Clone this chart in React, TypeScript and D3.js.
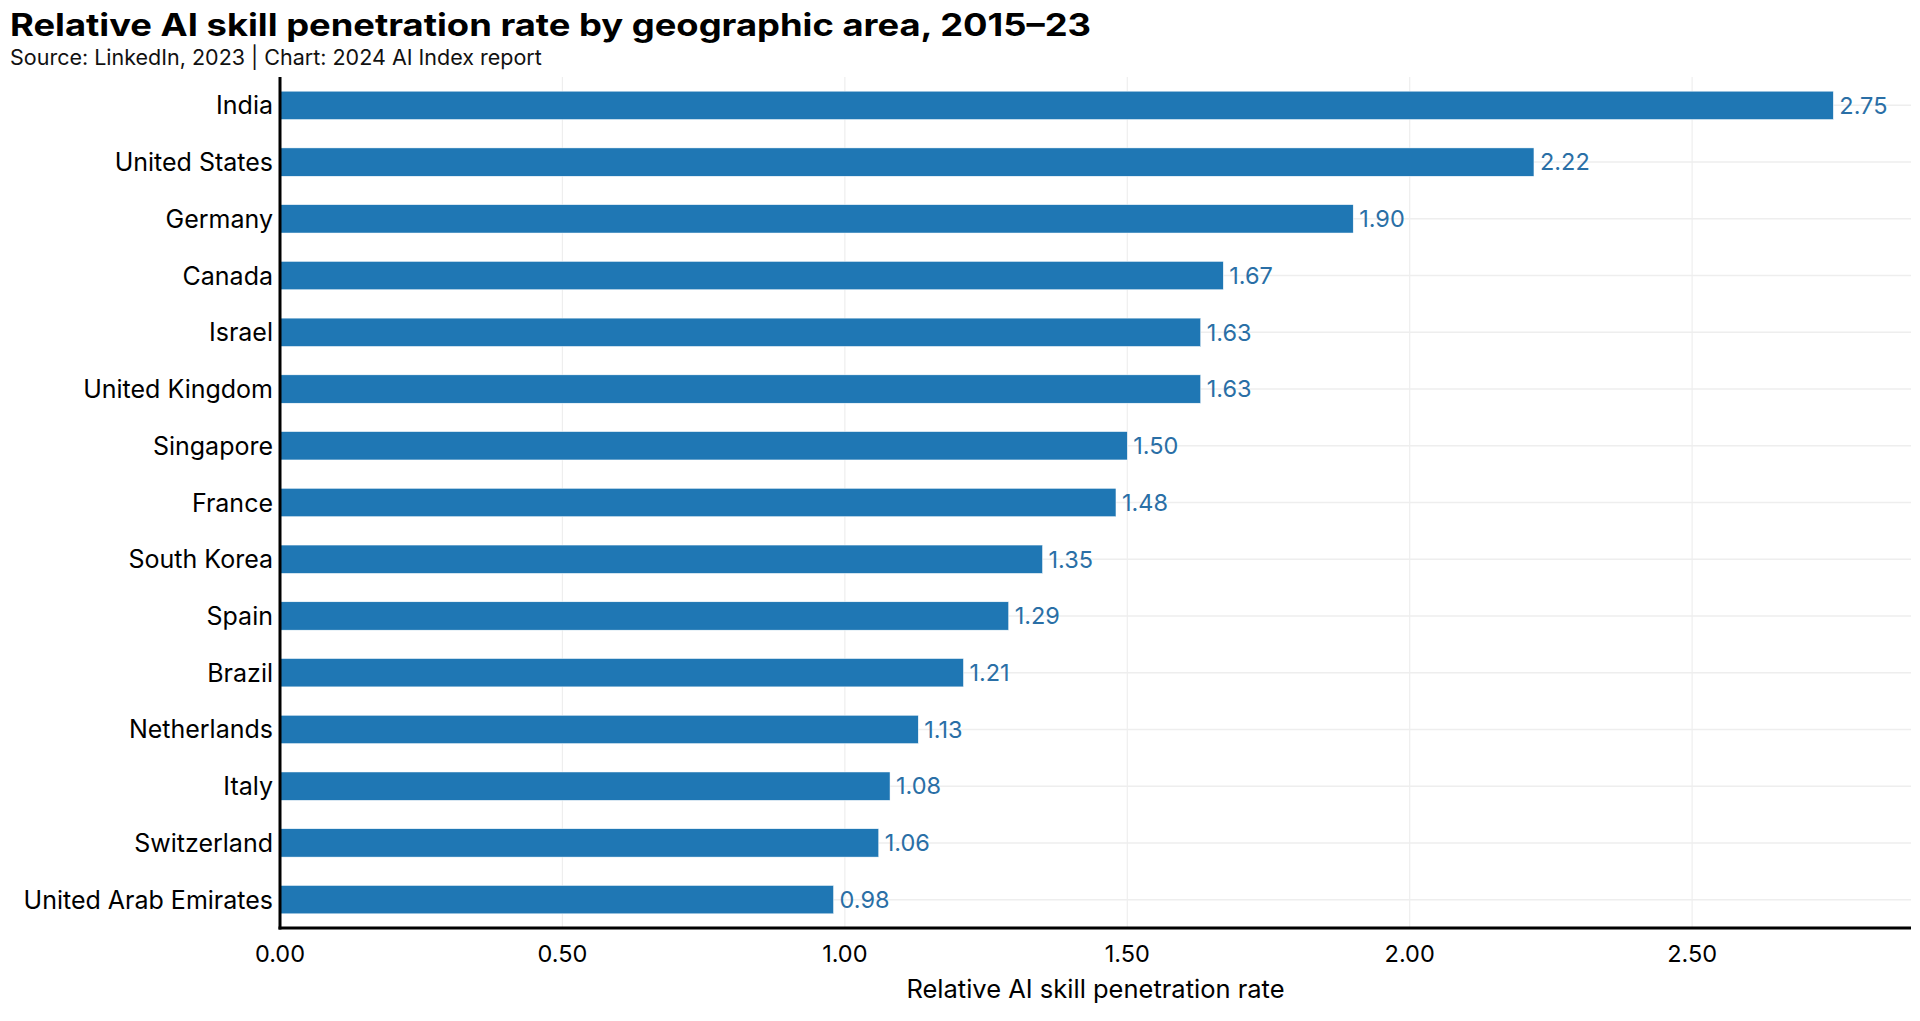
import React from "react";
import * as d3 from "d3";

const countries = [
  "India",
  "United States",
  "Germany",
  "Canada",
  "Israel",
  "United Kingdom",
  "Singapore",
  "France",
  "South Korea",
  "Spain",
  "Brazil",
  "Netherlands",
  "Italy",
  "Switzerland",
  "United Arab Emirates",
];
const rates = [2.75, 2.22, 1.9, 1.67, 1.63, 1.63, 1.5, 1.48, 1.35, 1.29, 1.21, 1.13, 1.08, 1.06, 0.98];
const xTicks = [0, 0.5, 1, 1.5, 2, 2.5];

const title = "Relative AI skill penetration rate by geographic area, 2015–23";
const subtitle = "Source: LinkedIn, 2023 | Chart: 2024 AI Index report";
const xTitle = "Relative AI skill penetration rate";

const W = 1920;
const H = 1021;
const M = { left: 280, right: 1911, top: 77, bottom: 928 };
const FONT = "Inter, 'Noto Sans', sans-serif";

export default function App() {
  const x = d3.scaleLinear().domain([0, d3.max(rates)! * 1.05]).range([M.left, M.right]);
  const y = d3
    .scaleBand<string>()
    .domain(countries)
    .range([M.top, M.bottom])
    .paddingInner(0.5)
    .paddingOuter(0.25);
  const bw = y.bandwidth();

  return (
    <svg
      width={W}
      height={H}
      style={{ position: "absolute", left: 0, top: 0, background: "#fff" }}
      fontFamily={FONT}
    >
      <text
        x={10}
        y={36}
        fontSize={31}
        fontWeight={700}
        fill="#000"
        textLength={1081}
        lengthAdjust="spacingAndGlyphs"
      >
        {title}
      </text>
      <text x={10} y={65} fontSize={21.5} fill="#111">
        {subtitle}
      </text>

      {/* vertical gridlines */}
      {xTicks.map((t) => (
        <line key={"vg" + t} x1={x(t)} x2={x(t)} y1={M.top} y2={M.bottom} stroke="#eeeeee" strokeWidth={1.2} />
      ))}
      {/* horizontal gridlines */}
      {countries.map((c) => (
        <line
          key={"hg" + c}
          x1={M.left}
          x2={M.right}
          y1={y(c)! + bw / 2}
          y2={y(c)! + bw / 2}
          stroke="#eeeeee"
          strokeWidth={1.5}
        />
      ))}

      {/* bars */}
      {countries.map((c, i) => (
        <rect
          key={"b" + c}
          x={x(0)}
          y={y(c)!}
          width={x(rates[i]) - x(0)}
          height={bw}
          fill="#1f77b4"
          stroke="#ffffff"
          strokeWidth={0.5}
        />
      ))}

      {/* value labels */}
      {countries.map((c, i) => (
        <text
          key={"v" + c}
          x={x(rates[i]) + 6}
          y={y(c)! + bw / 2 + 8.3}
          fontSize={23.5}
          fill="#2a6fa6"
        >
          {rates[i].toFixed(2)}
        </text>
      ))}

      {/* category labels */}
      {countries.map((c) => (
        <text
          key={"c" + c}
          x={M.left - 7}
          y={y(c)! + bw / 2 + 9}
          fontSize={25}
          textAnchor="end"
          fill="#000"
        >
          {c}
        </text>
      ))}

      {/* axes */}
      <line x1={M.left} x2={M.left} y1={M.top} y2={M.bottom + 1.5} stroke="#000" strokeWidth={3} />
      <line x1={M.left - 1.5} x2={M.right} y1={M.bottom} y2={M.bottom} stroke="#000" strokeWidth={3} />

      {xTicks.map((t) => (
        <text key={"xt" + t} x={x(t)} y={962} fontSize={23.5} textAnchor="middle" fill="#000">
          {t.toFixed(2)}
        </text>
      ))}

      <text x={(M.left + M.right) / 2} y={998} fontSize={25.5} textAnchor="middle" fill="#000">
        {xTitle}
      </text>
    </svg>
  );
}
